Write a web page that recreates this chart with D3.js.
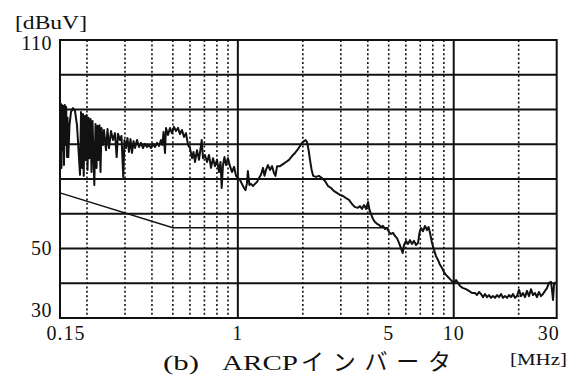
<!DOCTYPE html>
<html>
<head>
<meta charset="utf-8">
<script src="https://cdn.jsdelivr.net/npm/d3@7"></script>
<style>
  html, body { margin: 0; padding: 0; background: #fff; }
  svg { display: block; }
  text { font-family: "Liberation Serif", "DejaVu Serif", serif; fill: #111; }
  .cjk { font-family: "Liberation Serif", "Noto Sans CJK JP", serif; }
</style>
</head>
<body>
<svg id="chart" width="577" height="376"></svg>
<script>
// Conducted noise spectrum of the ARCP inverter (peak scan)
const freqMHz = [0.150,0.1508,0.1516,0.1524,0.1532,0.1545,0.1557,0.1565,0.1578,0.1591,0.1602,0.1616,0.1626,0.1639,0.1660,0.1687,0.1723,0.1760,0.1798,0.1828,0.1857,0.1877,0.1897,0.1917,0.1932,0.1949,0.1969,0.1990,0.2012,0.2034,0.2055,0.2077,0.2099,0.2122,0.2163,0.2190,0.2215,0.2238,0.2262,0.2286,0.2311,0.2336,0.2373,0.2398,0.2450,0.2490,0.2530,0.2585,0.2640,0.2697,0.2745,0.2785,0.2845,0.2890,0.2945,0.2983,0.3032,0.3081,0.3131,0.3181,0.3233,0.3287,0.3339,0.3411,0.3485,0.3559,0.3636,0.3714,0.3794,0.3876,0.3959,0.4044,0.4132,0.4221,0.4312,0.4405,0.4474,0.4524,0.4597,0.4646,0.4747,0.4849,0.4953,0.5060,0.5169,0.5280,0.5395,0.5511,0.5630,0.5752,0.5876,0.6002,0.6132,0.6230,0.6331,0.6467,0.6607,0.6800,0.6897,0.7044,0.7196,0.7351,0.7510,0.7672,0.7837,0.8007,0.8179,0.8311,0.8418,0.8533,0.8668,0.8808,0.8998,0.9198,0.9395,0.9600,0.9807,1.002,1.023,1.045,1.068,1.085,1.102,1.113,1.131,1.150,1.175,1.201,1.226,1.253,1.280,1.308,1.329,1.350,1.379,1.409,1.440,1.470,1.494,1.519,1.568,1.619,1.672,1.726,1.782,1.840,1.900,1.941,1.983,2.026,2.059,2.093,2.127,2.159,2.197,2.233,2.303,2.375,2.450,2.534,2.616,2.702,2.790,2.880,2.974,3.070,3.170,3.273,3.379,3.490,3.604,3.681,3.760,3.841,3.925,4.010,4.073,4.139,4.228,4.320,4.413,4.508,4.605,4.706,4.806,4.910,5.016,5.123,5.233,5.346,5.461,5.578,5.698,5.803,5.883,6.010,6.140,6.274,6.408,6.547,6.688,6.833,6.943,7.057,7.210,7.362,7.523,7.642,7.768,7.935,8.105,8.278,8.456,8.641,8.826,9.015,9.209,9.407,9.612,9.818,10.03,10.25,10.47,10.70,11.05,11.40,11.77,12.16,12.55,12.82,13.10,13.38,13.67,13.96,14.27,14.57,14.89,15.20,15.54,15.87,16.21,16.57,16.92,17.28,17.66,18.04,18.43,18.82,19.23,19.64,20.07,20.50,20.94,21.39,21.85,22.32,22.80,23.30,23.80,24.31,24.83,25.37,25.92,26.48,27.05,27.63,28.22,28.53,28.84,29.15,29.62];
const levelDb = [91.9,75.5,91.6,73.2,91.3,78.3,91.0,74.0,91.3,79.8,90.7,76.3,87.6,76.3,85.5,89.3,90.4,89.6,85.5,78.3,71.2,89.3,73.2,88.7,70.9,88.1,75.5,88.4,72.6,87.6,76.0,87.3,72.0,86.7,68.3,85.8,73.2,85.3,75.5,85.5,72.0,84.7,79.8,84.1,78.3,84.4,78.9,83.8,81.2,83.2,76.3,83.0,81.2,82.4,70.6,81.2,78.9,81.8,77.8,81.5,77.5,80.9,78.9,81.2,79.2,80.4,78.9,80.1,79.2,79.8,78.9,80.1,79.2,80.4,79.5,81.2,79.8,83.5,77.5,84.7,82.7,84.7,83.2,85.0,83.8,84.7,82.9,84.1,82.1,83.2,79.8,78.9,76.0,77.8,74.9,78.3,75.5,81.2,76.0,76.9,74.9,76.9,73.2,76.0,73.7,75.5,72.0,74.9,67.4,74.0,76.3,74.0,76.0,73.7,72.0,73.5,70.9,70.3,69.7,68.6,67.4,66.8,68.8,72.3,68.3,68.6,68.0,68.6,69.1,70.3,71.2,73.2,70.9,72.6,74.0,72.6,73.7,71.7,70.9,73.7,73.7,74.3,74.9,75.5,76.6,77.5,78.6,79.5,80.4,80.9,81.2,80.6,78.3,75.5,72.6,70.9,70.6,70.9,70.3,69.4,68.0,67.4,66.5,66.0,65.4,65.1,64.5,64.0,62.8,61.9,61.7,62.2,61.4,62.5,61.4,63.4,61.1,59.9,58.5,57.6,57.1,56.8,56.2,56.5,55.6,55.9,54.7,54.2,54.5,53.6,53.0,51.6,50.1,48.7,51.0,52.2,51.3,52.4,51.3,52.2,51.0,51.6,54.5,55.9,55.0,56.5,55.3,56.2,54.5,51.6,49.6,47.8,46.7,45.3,44.4,43.2,42.4,41.8,41.2,40.6,40.1,40.9,40.1,39.2,38.6,38.3,37.8,37.2,37.2,36.6,37.5,36.9,36.0,36.9,36.0,36.6,35.8,36.3,35.8,36.6,36.0,36.9,35.8,36.3,35.8,36.6,36.0,36.9,35.8,36.3,38.1,36.3,37.2,36.0,37.8,36.3,38.3,36.6,37.2,36.0,37.5,36.3,36.9,37.8,38.6,40.1,40.4,38.1,35.2,39.5,40.4];

// Limit line (quasi-peak): 66 -> 56 dB over 0.15-0.5 MHz, flat 56 dB to 5 MHz
const limitFreq = [0.15, 0.5, 5];
const limitDb = [66, 56, 56];

// Grid and tick definitions
const gridDb = [40, 50, 60, 70, 80, 90, 100];
const minorFreq = [0.2, 0.3, 0.4, 0.5, 0.6, 0.7, 0.8, 0.9, 2, 3, 4, 5, 6, 7, 8, 9, 20];
const majorFreq = [1, 10];
const xTickLabels = [0.15, 1, 5, 10, 30];
const yTickLabels = [30, 50, 110];

const yUnit = "[dBuV]";
const xUnit = "[MHz]";
const captionTag = "(b)";
const captionName = "ARCP";
const captionKana = "インバータ";

const svg = d3.select("#chart");
const plotL = 60, plotR = 556.7, plotT = 40, plotB = 318;
const ink = "#111";

const x = d3.scaleLog().domain([0.15, 30]).range([plotL, plotR]);
const y = d3.scaleLinear().domain([30, 110]).range([plotB, plotT]);

// Dotted minor verticals
svg.append("g").selectAll("line").data(minorFreq).join("line")
  .attr("x1", d => x(d)).attr("x2", d => x(d))
  .attr("y1", plotT).attr("y2", plotB)
  .attr("stroke", ink).attr("stroke-width", 1.6)
  .attr("stroke-dasharray", "2,2.4");

// Solid decade verticals
svg.append("g").selectAll("line").data(majorFreq).join("line")
  .attr("x1", d => x(d)).attr("x2", d => x(d))
  .attr("y1", plotT).attr("y2", plotB)
  .attr("stroke", ink).attr("stroke-width", 2);

// Solid horizontal grid every 10 dB
svg.append("g").selectAll("line").data(gridDb).join("line")
  .attr("x1", plotL).attr("x2", plotR)
  .attr("y1", d => y(d)).attr("y2", d => y(d))
  .attr("stroke", ink).attr("stroke-width", 2);

// Frame
svg.append("rect")
  .attr("x", plotL).attr("y", plotT)
  .attr("width", plotR - plotL).attr("height", plotB - plotT)
  .attr("fill", "none").attr("stroke", ink).attr("stroke-width", 2);

// Limit line
const limitLine = d3.line().x(d => x(d[0])).y(d => y(d[1]));
svg.append("path")
  .datum(d3.zip(limitFreq, limitDb))
  .attr("d", limitLine)
  .attr("fill", "none").attr("stroke", ink).attr("stroke-width", 1.5);

// Measured spectrum
const specLine = d3.line().x(d => x(d[0])).y(d => y(d[1]));
svg.append("path")
  .datum(d3.zip(freqMHz, levelDb))
  .attr("d", specLine)
  .attr("fill", "none").attr("stroke", ink)
  .attr("stroke-width", 2).attr("stroke-linejoin", "round");

// Y tick labels
svg.append("g").selectAll("text").data(yTickLabels).join("text")
  .attr("x", 52).attr("text-anchor", "end")
  .attr("y", d => Math.min(plotB - 1, Math.max(plotT + 10, y(d) + 6.5)))
  .attr("font-size", 20).attr("letter-spacing", 0.5)
  .text(d => String(d));

// X tick labels
svg.append("g").selectAll("text").data(xTickLabels).join("text")
  .attr("x", d => Math.min(plotR - 8, Math.max(plotL + 6, x(d))))
  .attr("y", 340).attr("text-anchor", "middle")
  .attr("font-size", 20).attr("letter-spacing", 1)
  .text(d => String(d));

// Axis units
svg.append("text").attr("x", 15).attr("y", 29)
  .attr("font-size", 19).attr("textLength", 72).attr("lengthAdjust", "spacingAndGlyphs")
  .text(yUnit);
svg.append("text").attr("x", 510).attr("y", 365)
  .attr("font-size", 17).attr("textLength", 57).attr("lengthAdjust", "spacingAndGlyphs")
  .text(xUnit);

// Caption
svg.append("text").attr("class", "cjk").attr("x", 163).attr("y", 370)
  .attr("font-size", 21).attr("textLength", 36).attr("lengthAdjust", "spacingAndGlyphs")
  .text(captionTag);
svg.append("text").attr("class", "cjk").attr("x", 222).attr("y", 370)
  .attr("font-size", 21).attr("textLength", 76).attr("lengthAdjust", "spacingAndGlyphs")
  .text(captionName);
svg.append("text").attr("class", "cjk").attr("x", 301).attr("y", 370)
  .attr("font-size", 23).attr("textLength", 150).attr("lengthAdjust", "spacing")
  .text(captionKana);
</script>
</body>
</html>
